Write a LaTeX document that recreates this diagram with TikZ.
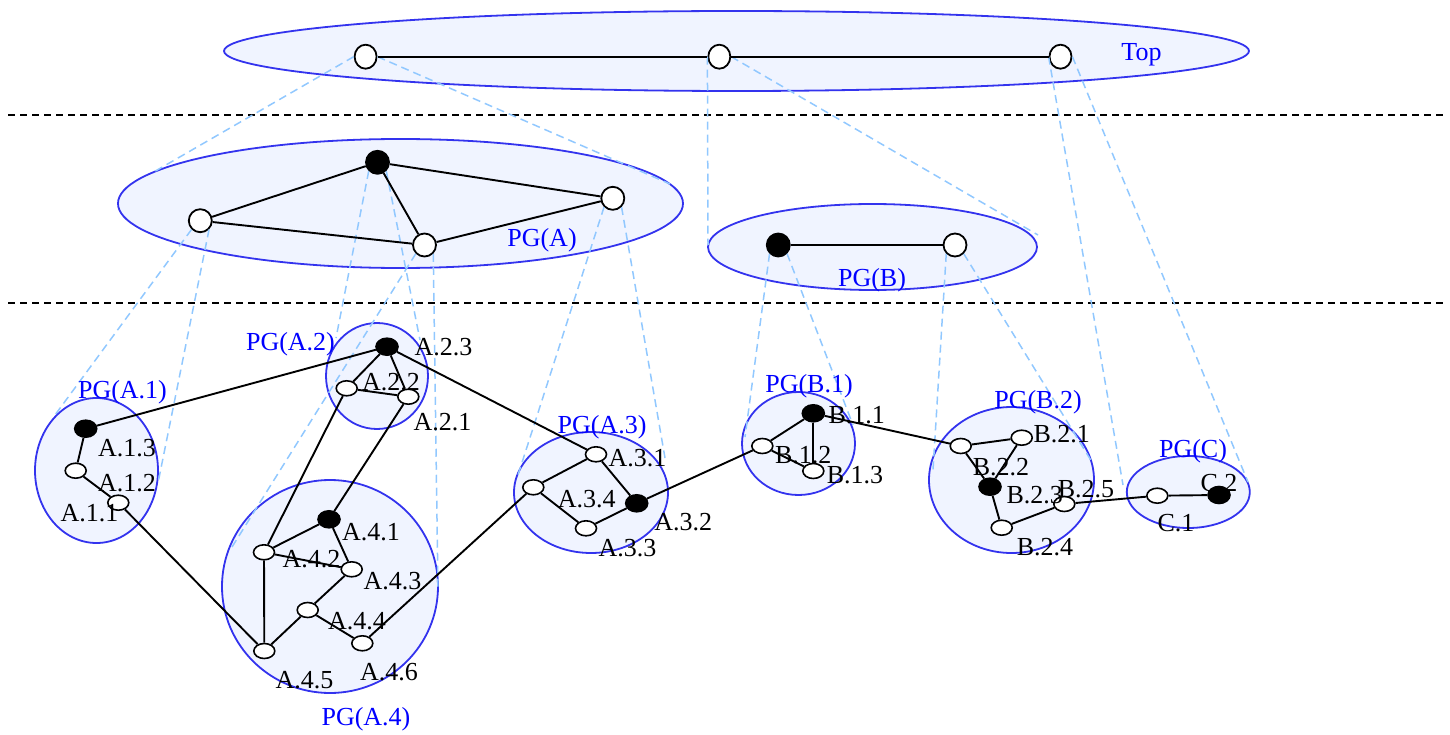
\documentclass[tikz,border=0pt]{standalone}
\usepackage{fontspec}
\setmainfont{Liberation Serif}
\usetikzlibrary{shapes.geometric}
\definecolor{grpline}{RGB}{51,51,238}
\definecolor{grpfill}{RGB}{240,244,255}
\definecolor{grptext}{RGB}{0,0,255}
\definecolor{proj}{RGB}{145,200,255}
\begin{document}
\begin{tikzpicture}[x=1pt,y=-1pt, font=\fontsize{26}{30}\selectfont,
 grp/.style={ellipse, draw=grpline, fill=grpfill, line width=1.8pt, inner sep=0pt},
 topnode/.style={ellipse, draw, fill=white, line width=1.8pt, minimum width=22pt, minimum height=24pt, inner sep=0pt},
 midW/.style={circle, draw, fill=white, line width=1.8pt, minimum size=23pt, inner sep=0pt},
 midB/.style={midW, fill=black},
 lowW/.style={ellipse, draw, fill=white, line width=1.6pt, minimum width=21pt, minimum height=15pt, inner sep=0pt},
 lowB/.style={lowW, fill=black, minimum width=22pt, minimum height=17pt},
 link/.style={line width=1.9pt},
 projline/.style={draw=proj, dash pattern=on 8pt off 5pt, line width=1.5pt},
 levelsep/.style={dash pattern=on 7pt off 5pt, line width=1.7pt},
 lbl/.style={anchor=base, inner sep=0pt},
 glbl/.style={lbl, text=grptext}]
\useasboundingbox (0,0) rectangle (1450,735);

% separators
\coordinate (s1a) at (8,115); \coordinate (s1b) at (1445,115);
\coordinate (s2a) at (8,303); \coordinate (s2b) at (1445,303);
\draw[levelsep] (s1a) -- (s1b);
\draw[levelsep] (s2a) -- (s2b);

% group ellipses
\node[grp, minimum width=1025pt, minimum height=80pt] (gTop) at (736.5,51) {};
\node[grp, minimum width=565pt, minimum height=129pt] (gA) at (400.5,203.5) {};
\node[grp, minimum width=329pt, minimum height=86pt] (gB) at (872.5,247) {};
\node[grp, minimum width=123pt, minimum height=145pt] (gA1) at (96.5,470.5) {};
\node[grp, minimum width=102pt, minimum height=106pt] (gA2) at (377,376) {};
\node[grp, minimum width=154pt, minimum height=121pt] (gA3) at (591,492.5) {};
\node[grp, minimum width=216pt, minimum height=213pt] (gA4) at (330,586.5) {};
\node[grp, minimum width=113pt, minimum height=103pt] (gB1) at (798.5,443.5) {};
\node[grp, minimum width=165pt, minimum height=146pt] (gB2) at (1011.5,480) {};
\node[grp, minimum width=123pt, minimum height=72pt] (gC) at (1188.3,492) {};

% nodes
\node[topnode] (t1) at (365.6,56.7) {};
\node[topnode] (t2) at (719.3,56.7) {};
\node[topnode] (t3) at (1060.5,56.7) {};

\node[midW] (aL) at (200.3,220.7) {};
\node[midB] (aT) at (377.5,162.3) {};
\node[midW] (aB) at (424.5,245) {};
\node[midW] (aR) at (612.8,198.3) {};
\node[midB] (bL) at (778.3,245) {};
\node[midW] (bR) at (955,245) {};

\node[lowB] (a13) at (85.7,428.7) {};
\node[lowW] (a12) at (75.7,470.7) {};
\node[lowW] (a11) at (118.3,502.7) {};
\node[lowB] (a23) at (387,346.7) {};
\node[lowW] (a22) at (346.7,388.3) {};
\node[lowW] (a21) at (408.3,396.7) {};
\node[lowW] (a31) at (596,454.3) {};
\node[lowW] (a34) at (533.3,487.3) {};
\node[lowB] (a32) at (636.7,503.3) {};
\node[lowW] (a33) at (586,528.3) {};
\node[lowB] (a41) at (329,519.3) {};
\node[lowW] (a42) at (264,552.3) {};
\node[lowW] (a43) at (351.7,569.3) {};
\node[lowW] (a44) at (307.7,610) {};
\node[lowW] (a45) at (264.3,651) {};
\node[lowW] (a46) at (362.3,643.3) {};
\node[lowB] (b11) at (813.3,413.3) {};
\node[lowW] (b12) at (762.3,446) {};
\node[lowW] (b13) at (813.3,471) {};
\node[lowW] (b22) at (960.7,446) {};
\node[lowW] (b21) at (1021.7,437.7) {};
\node[lowB] (b23) at (990,486.7) {};
\node[lowW] (b25) at (1064.3,504) {};
\node[lowW] (b24) at (1001.7,527.7) {};
\node[lowW] (c1) at (1157.3,495.7) {};
\node[lowB] (c2) at (1219,495) {};

% projection end points
\coordinate (p1L) at (152,173);  \coordinate (p1R) at (670,184);
\coordinate (p2L) at (708,245);  \coordinate (p2R) at (1038,235);
\coordinate (p3L) at (1123,485); \coordinate (p3R) at (1248,482);
\coordinate (pALl) at (55,415);  \coordinate (pALr) at (158,483);
\coordinate (pATl) at (336,338); \coordinate (pATr) at (420,340);
\coordinate (pABl) at (232,547); \coordinate (pABr) at (438,590);
\coordinate (pARl) at (518,475); \coordinate (pARr) at (665,458);
\coordinate (pBLl) at (745,437); \coordinate (pBLr) at (853,425);
\coordinate (pBRl) at (933,470); \coordinate (pBRr) at (1092,462);

\draw[projline] (t1.west) -- (p1L);
\draw[projline] (t1.east) -- (p1R);
\draw[projline] (t2.west) -- (p2L);
\draw[projline] (t2.east) -- (p2R);
\draw[projline] (t3.west) -- (p3L);
\draw[projline] (t3.east) -- (p3R);
\draw[projline] (aL.south west) -- (pALl);
\draw[projline] (aL.south east) -- (pALr);
\draw[projline] (aT.south west) -- (pATl);
\draw[projline] (aT.south east) -- (pATr);
\draw[projline] (aB.south west) -- (pABl);
\draw[projline] (aB.south east) -- (pABr);
\draw[projline] (aR.south west) -- (pARl);
\draw[projline] (aR.south east) -- (pARr);
\draw[projline] (bL.south west) -- (pBLl);
\draw[projline] (bL.south east) -- (pBLr);
\draw[projline] (bR.south west) -- (pBRl);
\draw[projline] (bR.south east) -- (pBRr);

% edges
\draw[link] (t1) -- (t2);
\draw[link] (t2) -- (t3);
\draw[link] (aL) -- (aT);
\draw[link] (aL) -- (aB);
\draw[link] (aT) -- (aB);
\draw[link] (aT) -- (aR);
\draw[link] (aB) -- (aR);
\draw[link] (bL) -- (bR);
\draw[link] (a13) -- (a12);
\draw[link] (a12) -- (a11);
\draw[link] (a23) -- (a22);
\draw[link] (a23) -- (a21);
\draw[link] (a22) -- (a21);
\draw[link] (a31) -- (a34);
\draw[link] (a31) -- (a32);
\draw[link] (a34) -- (a33);
\draw[link] (a33) -- (a32);
\draw[link] (a41) -- (a42);
\draw[link] (a41) -- (a43);
\draw[link] (a42) -- (a43);
\draw[link] (a42) -- (a45);
\draw[link] (a43) -- (a44);
\draw[link] (a44) -- (a45);
\draw[link] (a44) -- (a46);
\draw[link] (b11) -- (b12);
\draw[link] (b11) -- (b13);
\draw[link] (b12) -- (b13);
\draw[link] (b22) -- (b21);
\draw[link] (b22) -- (b23);
\draw[link] (b21) -- (b23);
\draw[link] (b23) -- (b24);
\draw[link] (b24) -- (b25);
\draw[link] (c1) -- (c2);
\draw[link] (a13) -- (a23);
\draw[link] (a23) -- (a31);
\draw[link] (a22) -- (a42);
\draw[link] (a21) -- (a41);
\draw[link] (a11) -- (a45);
\draw[link] (a46) -- (a34);
\draw[link] (a32) -- (b12);
\draw[link] (b11) -- (b22);
\draw[link] (b25) -- (c1);

% group labels
\node[glbl] (lTop) at (1141.5,60.3) {Top};
\node[glbl] (lA) at (542,247) {PG(A)};
\node[glbl] (lB) at (872,287) {PG(B)};
\node[glbl] (lA1) at (122.5,398.6) {PG(A.1)};
\node[glbl] (lA2) at (290.5,350) {PG(A.2)};
\node[glbl] (lA3) at (602,433.6) {PG(A.3)};
\node[glbl] (lA4) at (366,725.3) {PG(A.4)};
\node[glbl] (lB1) at (809,392.3) {PG(B.1)};
\node[glbl] (lB2) at (1038,408.6) {PG(B.2)};
\node[glbl] (lC) at (1193,457) {PG(C)};

% node labels
\node[lbl] (l13) at (127,456.6) {A.1.3};
\node[lbl] (l12) at (127,491) {A.1.2};
\node[lbl] (l11) at (89.5,521.7) {A.1.1};
\node[lbl] (l23) at (443.5,355) {A.2.3};
\node[lbl] (l22) at (391,390) {A.2.2};
\node[lbl] (l21) at (442.5,430) {A.2.1};
\node[lbl] (l31) at (637.5,466) {A.3.1};
\node[lbl] (l34) at (586.7,507.6) {A.3.4};
\node[lbl] (l32) at (683.3,530.3) {A.3.2};
\node[lbl] (l33) at (627.5,556) {A.3.3};
\node[lbl] (l41) at (371,540) {A.4.1};
\node[lbl] (l42) at (311.5,567) {A.4.2};
\node[lbl] (l43) at (392.5,589.5) {A.4.3};
\node[lbl] (l44) at (357,629.5) {A.4.4};
\node[lbl] (l45) at (304.5,688.7) {A.4.5};
\node[lbl] (l46) at (389,680.3) {A.4.6};
\node[lbl] (m11) at (856.7,423.6) {B.1.1};
\node[lbl] (m12) at (803.3,463.6) {B.1.2};
\node[lbl] (m13) at (855,483.3) {B.1.3};
\node[lbl] (m21) at (1061.7,442) {B.2.1};
\node[lbl] (m22) at (1001,475.3) {B.2.2};
\node[lbl] (m23) at (1034.7,503.6) {B.2.3};
\node[lbl] (m25) at (1086,497) {B.2.5};
\node[lbl] (m24) at (1045,555.3) {B.2.4};
\node[lbl] (n1) at (1176,531) {C.1};
\node[lbl] (n2) at (1219,491) {C.2};
\end{tikzpicture}
\end{document}
